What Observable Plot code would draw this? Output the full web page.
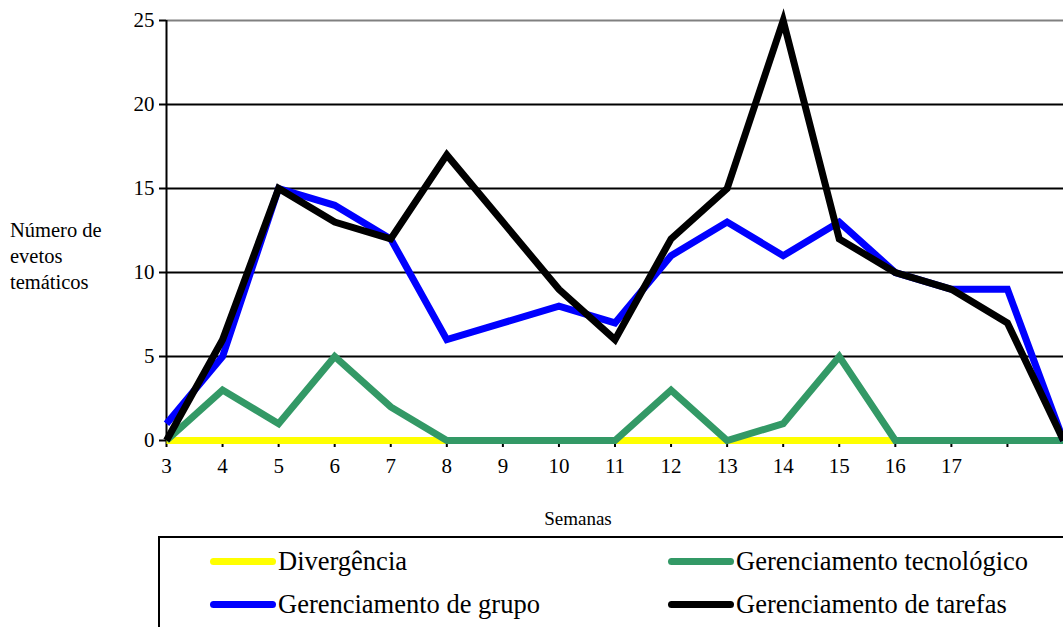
<!DOCTYPE html>
<html>
<head>
<meta charset="utf-8">
<script src="https://cdn.jsdelivr.net/npm/d3@7"></script>
<script src="https://cdn.jsdelivr.net/npm/@observablehq/plot@0.6"></script>
<style>
  html, body { margin: 0; padding: 0; background: #fff; overflow: hidden; }
  #wrap { position: relative; width: 1063px; height: 627px; font-family: "Liberation Serif", "DejaVu Serif", serif; color: #000; }
  #chart { position: absolute; left: 0; top: 0; }
  #ylabel { position: absolute; left: 10px; top: 217px; font-size: 20.5px; line-height: 26px; }
  #xlabel { position: absolute; left: 478px; width: 200px; text-align: center; top: 508px; font-size: 19px; }
  #legend { position: absolute; left: 158px; top: 536px; width: 920px; height: 110px; border: 2px solid #000; box-sizing: border-box; }
  .item { position: absolute; display: flex; align-items: center; font-size: 26.5px; }
  .sw { width: 66px; height: 7px; border-radius: 4px; margin-right: 2px; }
</style>
</head>
<body>
<div id="wrap">
  <div id="chart"></div>
  <div id="ylabel">Número de<br>evetos<br>temáticos</div>
  <div id="xlabel">Semanas</div>
  <div id="legend"></div>
</div>
<script>
const weeks = [3, 4, 5, 6, 7, 8, 9, 10, 11, 12, 13, 14, 15, 16, 17, 18, 19];
const divergencia = [0, 0, 0, 0, 0, 0, 0, 0, 0, 0, 0, 0, 0, 0, 0, 0, 0];
const tecnologico = [0, 3, 1, 5, 2, 0, 0, 0, 0, 3, 0, 1, 5, 0, 0, 0, 0];
const grupo = [1, 5, 15, 14, 12, 6, 7, 8, 7, 11, 13, 11, 13, 10, 9, 9, 0];
const tarefas = [0, 6, 15, 13, 12, 17, 13, 9, 6, 12, 15, 25, 12, 10, 9, 7, 0];
const seriesNames = ["Divergência", "Gerenciamento tecnológico", "Gerenciamento de grupo", "Gerenciamento de tarefas"];
const seriesColors = ["#ffff00", "#339966", "#0000ff", "#000000"];
const xTicks = [3, 4, 5, 6, 7, 8, 9, 10, 11, 12, 13, 14, 15, 16, 17, 18];
const xTickLabels = ["3", "4", "5", "6", "7", "8", "9", "10", "11", "12", "13", "14", "15", "16", "17", ""];
const yTicks = [0, 5, 10, 15, 20, 25];

const seriesValues = [divergencia, tecnologico, grupo, tarefas];
const rows = [];
seriesValues.forEach((vals, s) => {
  vals.forEach((v, i) => rows.push({week: weeks[i], value: v, series: seriesNames[s]}));
});

const chart = Plot.plot({
  width: 1063,
  height: 500,
  marginLeft: 166,
  marginRight: 0,
  marginTop: 20,
  marginBottom: 60,
  style: {fontFamily: "'Liberation Serif', serif", fontSize: "21px", color: "#000", background: "transparent", overflow: "visible"},
  x: {domain: [3, 19], label: null},
  y: {domain: [0, 25], label: null},
  color: {domain: seriesNames, range: seriesColors},
  marks: [
    Plot.ruleY(yTicks.filter(d => d > 0 && d < 25), {stroke: "#000", strokeWidth: 2}),
    Plot.ruleY([25], {stroke: "#808080", strokeWidth: 2}),
    Plot.axisY({ticks: yTicks, tickSize: 7, tickPadding: 5, tickFormat: d => String(d), strokeWidth: 2, fontSize: 21}),
    Plot.axisX({ticks: xTicks, tickSize: 7, tickPadding: 11, tickFormat: (d, i) => xTickLabels[i], strokeWidth: 2, fontSize: 21}),
    Plot.ruleX([3], {stroke: "#000", strokeWidth: 2}),
    Plot.ruleY([0], {stroke: "#000", strokeWidth: 2}),
    Plot.lineY(rows, {x: "week", y: "value", z: "series", stroke: "series", strokeWidth: 7, strokeLinejoin: "miter", strokeMiterlimit: 10, strokeLinecap: "butt"})
  ]
});
document.getElementById("chart").appendChild(chart);

const legend = document.getElementById("legend");
const positions = [[50, 8], [508, 8], [50, 51], [508, 51]];
seriesNames.forEach((name, i) => {
  const item = document.createElement("div");
  item.className = "item";
  item.style.left = positions[i][0] + "px";
  item.style.top = positions[i][1] + "px";
  const sw = document.createElement("div");
  sw.className = "sw";
  sw.style.background = seriesColors[i];
  const label = document.createElement("span");
  label.textContent = name;
  item.appendChild(sw);
  item.appendChild(label);
  legend.appendChild(item);
});
</script>
</body>
</html>
